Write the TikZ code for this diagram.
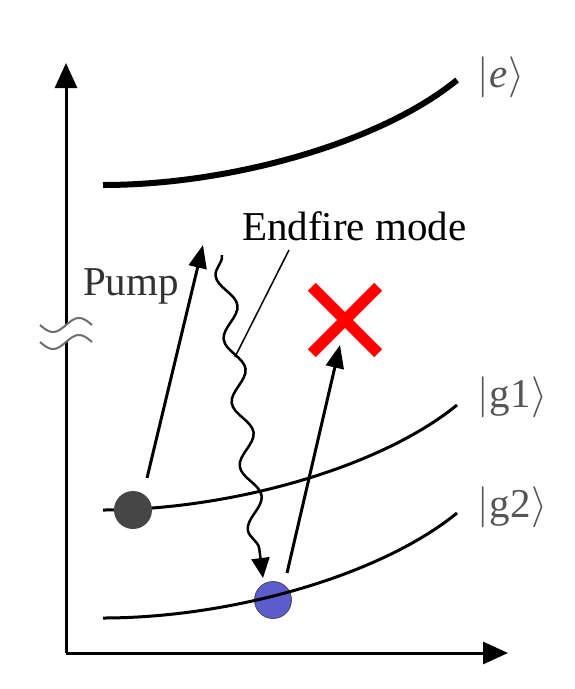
\RequirePackage{fix-cm}
\documentclass[tikz,border=0pt]{standalone}
\usepackage{fontspec}
\setmainfont{Liberation Serif}
\usetikzlibrary{arrows.meta,decorations.pathmorphing}
\definecolor{atomgray}{RGB}{70,70,70}
\definecolor{atomblue}{RGB}{92,92,204}
\definecolor{lblgray}{RGB}{85,85,85}
\definecolor{pumpgray}{RGB}{50,50,50}
\definecolor{breakgray}{RGB}{110,110,110}
\begin{document}
\begin{tikzpicture}[x=1pt,y=-1pt,
  axis/.style={line width=3pt,-{Triangle[length=25pt,width=22pt]}},
  level/.style={line width=3pt},
  elevel/.style={line width=6pt},
  transition/.style={line width=3pt,-{Triangle[length=23pt,width=18pt]}},
  emission/.style={line width=2.5pt,decorate,
     decoration={snake,amplitude=-9pt,segment length=64pt,post length=22pt},
     -{Triangle[length=20pt,width=18pt]}},
  lbl/.style={font=\fontsize{41}{45}\selectfont,inner sep=0pt},
  redx/.style={line width=11pt,red},
  breakline/.style={line width=2pt,breakgray}]
\useasboundingbox (0,0) rectangle (574,689);
\fill[white] (0,0) rectangle (574,689);

% axes
\coordinate (O) at (66,653);
\coordinate (ytop) at (66,63);
\coordinate (xend) at (508,653);
\draw[axis] (O) -- (ytop);
\draw[axis] (O) -- (xend);

% axis break
\fill[white] plot[domain=56:76,samples=20,smooth] (\x,{325+7*sin(6.923*(\x-40))})
  -- plot[domain=76:56,samples=20,smooth] (\x,{342+7*sin(6.923*(\x-40))}) -- cycle;
\draw[breakline] plot[domain=40:92,samples=40,smooth] (\x,{325+7*sin(6.923*(\x-40))});
\draw[breakline] plot[domain=40:92,samples=40,smooth] (\x,{342+7*sin(6.923*(\x-40))});

% levels
\coordinate (eA) at (103,185);
\coordinate (eB) at (457,80);
\draw[elevel] (eA) .. controls (230,185) and (380,143) .. (eB);
\coordinate (g1A) at (103,510);
\coordinate (g1B) at (457,405);
\draw[level] (g1A) .. controls (230,510) and (380,468) .. (g1B);
\node[circle,fill=atomgray,minimum size=38pt,inner sep=0pt] (atomA) at (133,510) {};
\node[circle,fill=atomblue,draw=black!70,line width=0.8pt,minimum size=37pt,inner sep=0pt] (atomB) at (273,600) {};
\coordinate (g2A) at (103,618);
\coordinate (g2B) at (457,513);
\draw[level] (g2A) .. controls (230,618) and (380,576) .. (g2B);

% labels
\node[lbl,text=lblgray,anchor=west] (elab) at (477,77) {$\bigl\vert$\kern1pt\textit{e}\kern1pt$\rangle$};
\node[lbl,text=lblgray,anchor=west] (g1lab) at (477,397) {$\bigl\vert$\kern1pt g1\kern1pt$\rangle$};
\node[lbl,text=lblgray,anchor=west] (g2lab) at (477,507) {$\bigl\vert$\kern1pt g2\kern1pt$\rangle$};
\node[lbl,anchor=base west] (endfire) at (242,240) {Endfire mode};
\node[lbl,text=pumpgray,anchor=base west] (pump) at (83,295) {Pump};

% transitions
\coordinate (pumpTail) at (147,478);
\coordinate (pumpTip) at (203,245);
\draw[transition] (pumpTail) -- (pumpTip);
\coordinate (emitTop) at (222,255);
\coordinate (emitEnd) at (263,578);
\draw[emission] (emitTop) -- (emitEnd);
\coordinate (probeTail) at (287,573);
\coordinate (probeTip) at (340,345);
\draw[transition] (probeTail) -- (probeTip);

% leader
\coordinate (leadA) at (289,250);
\coordinate (leadB) at (235,357);
\draw[line width=1.5pt] (leadA) -- (leadB);

% red cross
\node[minimum size=66pt,inner sep=0pt] (cross) at (345,320) {};
\draw[redx] (cross.north west) -- (cross.south east);
\draw[redx] (cross.north east) -- (cross.south west);
\end{tikzpicture}
\end{document}
